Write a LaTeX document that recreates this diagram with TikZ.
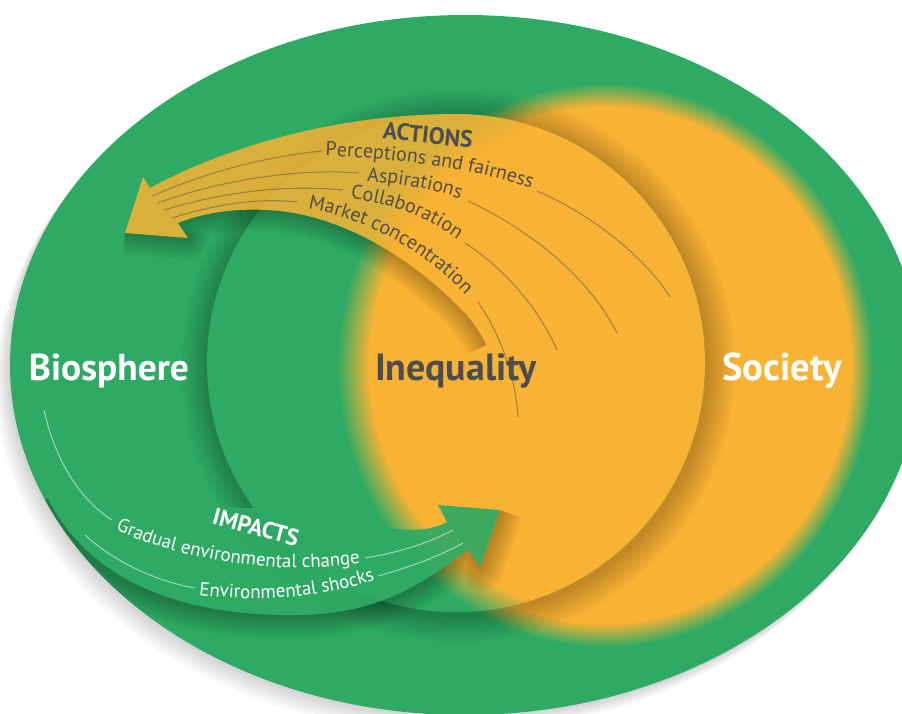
\documentclass[tikz,border=0pt]{standalone}
\usepackage{fontspec}
\setmainfont{PT Sans}
\usetikzlibrary{decorations.text}
\definecolor{grn}{RGB}{46,170,100}
\definecolor{orng}{RGB}{248,178,52}
\definecolor{dk}{RGB}{77,77,80}
\definecolor{itm}{RGB}{82,78,72}
\definecolor{lin}{RGB}{115,100,70}
\pgfdeclareradialshading{soc}{\pgfpointorigin}{color(0bp)=(orng); color(22.9bp)=(orng); color(25bp)=(grn); color(50bp)=(grn)}
\pgfdeclareradialshading{socin}{\pgfpointorigin}{color(0bp)=(orng); color(22.0bp)=(orng); color(25bp)=(grn); color(50bp)=(grn)}
\tikzset{
  actline/.style={lin, opacity=0.6, line width=1.1pt},
  impline/.style={white, opacity=0.55, line width=1pt},
  shadowstroke/.style={black, opacity=0.022, line join=round},
  itemtext/.style={decorate, decoration={text along path, text align=center, text color=itm, text={|\itemfnt|#1}}},
  imptext/.style={decorate, decoration={text along path, text align=center, text color=white, text={|\impfnt|#1}}},
}
\def\actband{(150,188) .. controls (220,150) and (330,114) .. (456,114) .. controls (568.7,114) and (667.3,189.7) .. (696.5,298.6) -- (505,440) .. controls (500,370) and (490,335) .. (455,303) .. controls (410,258) and (345,218) .. (280,211) .. controls (240,207) and (205,212) .. (178,223) -- (188,238) -- (125,233) -- (143,177) -- cycle}
\def\actlower{(125,233) -- (188,238) -- (178,223) .. controls (205,212) and (240,207) .. (280,211) .. controls (345,218) and (410,258) .. (455,303) .. controls (469,315.8) and (479,329.1) .. (486.3,344.9)}
\def\actbelow{(125,233) -- (188,238) -- (178,223) .. controls (205,212) and (240,207) .. (280,211) .. controls (345,218) and (410,258) .. (455,303) .. controls (490,335) and (500,370) .. (505,440) -- (505,720) -- (60,720) -- (60,233) -- cycle}
\def\impband{(30,385) .. controls (45,470) and (110,506) .. (250,508) .. controls (340,510) and (405,545) .. (447,522) -- (438,505) -- (500,510) -- (480,567) -- (468,550) .. controls (420,585) and (380,613) .. (300,615) .. controls (190,617) and (80,585) .. (40,480) -- cycle}
\def\implower{(45,500) .. controls (90,590) and (190,617) .. (300,615) .. controls (380,613) and (420,585) .. (468,550) -- (480,567) -- (500,510)}
\def\impbelow{(40,480) .. controls (80,585) and (190,617) .. (300,615) .. controls (380,613) and (420,585) .. (468,550) -- (480,567) -- (500,510) -- (620,515) -- (620,760) -- (-50,760) -- (-50,480) -- cycle}
\newcommand{\itemfnt}{\fontsize{20}{21}\selectfont}
\newcommand{\impfnt}{\fontsize{19}{19}\selectfont}
\begin{document}
\begin{tikzpicture}[x=1pt,y=-1pt]
\useasboundingbox (0,0) rectangle (902,713);
\clip (0,0) rectangle (902,713);
\fill[white] (0,0) rectangle (902,713);
% outer ellipse with soft shadow
\foreach \k in {1,...,7}{\fill[black,opacity=0.022] ([shift={(-2*\k,2.5*\k)}]465,365) ellipse (455 and 350);}
\fill[grn] (465,365) ellipse (455 and 350);
% society
\shade[shading=soc] (605,365) ellipse (268 and 282);
% inner circle glow
\foreach \w in {56,52,...,4}{\draw[black,opacity=0.017,line width=\w pt] (458,366) circle (249);}
% inner disc
\begin{scope}
\clip (456,363) circle (249);
\fill[grn] (150,100) rectangle (720,620);
\shade[shading=socin] (605,365) ellipse (268 and 282);
\end{scope}
% actions band
\begin{scope}
\clip \actbelow;
\foreach \w in {44,40,...,4}{\draw[shadowstroke,line width=\w pt] \actlower;}
\end{scope}
\fill[orng,opacity=0.85] \actband;
% action lines
\draw[actline] (152,196) .. controls (200,175) and (260,157) .. (322,151);
\draw[actline] (537,191) .. controls (582,210) and (640,250) .. (670,297);
\draw[actline] (158,203) .. controls (220,180) and (300,168) .. (358,173);
\draw[actline] (468,201) .. controls (520,225) and (585,270) .. (617,333);
\draw[actline] (164,210) .. controls (230,190) and (290,185) .. (343,190);
\draw[actline] (465,243) .. controls (495,262) and (535,300) .. (557,350);
\draw[actline] (172,218) .. controls (220,203) and (260,198) .. (297,202);
\draw[actline] (478,302) .. controls (497,330) and (515,370) .. (518,417);
% action texts
\path[itemtext={Perceptions and fairness}] (300,155) -- (330,156) .. controls (390,158) and (470,168) .. (527,187) -- (555.5,196.5);
\path[itemtext={Aspirations}] (336,178.9) -- (366,181) .. controls (395,183) and (430,188) .. (461,199) -- (489.3,209);
\path[itemtext={Collaboration}] (320.1,196.4) -- (350,199) .. controls (385,202) and (425,215) .. (458,240) -- (481.9,258.1);
\path[itemtext={Market concentration}] (273.3,203.6) -- (303,208) .. controls (370,218) and (430,255) .. (469,299) -- (488.9,321.4);
\node[font=\bfseries\fontsize{20}{20}\selectfont, text=dk, rotate=-6] (act) at (428,135) {\resizebox{90pt}{!}{ACTIONS}};
% impacts band
\begin{scope}
\clip (465,365) ellipse (455 and 350);
\clip \impbelow;
\foreach \w in {48,44,...,4}{\draw[shadowstroke,line width=\w pt] \implower;}
\end{scope}
\fill[grn,opacity=0.92] \impband;
\draw[impline] (44,410) .. controls (55,460) and (80,500) .. (112,520);
\draw[impline] (365,558) .. controls (395,553) and (425,545) .. (453,530);
\draw[impline] (85,535) .. controls (110,558) and (150,580) .. (195,588);
\draw[impline] (378,576) .. controls (410,567) and (440,556) .. (463,543);
\path[imptext={Gradual environmental change}] (88.8,517.4) -- (116,530) .. controls (170,555) and (270,578) .. (360,563) -- (389.6,558.1);
\path[imptext={Environmental shocks}] (169.2,591.6) -- (199,595) .. controls (260,602) and (320,598) .. (375,580) -- (403.5,570.7);
\node[font=\bfseries\fontsize{20}{20}\selectfont, text=white, rotate=-15] (imp) at (256,527) {\resizebox{88pt}{!}{IMPACTS}};
% main labels
\node[font=\bfseries\fontsize{36}{36}\selectfont, text=white, anchor=base] (bio) at (109,380) {\resizebox{160pt}{!}{Biosphere}};
\node[font=\bfseries\fontsize{36}{36}\selectfont, text=dk, anchor=base] (ineq) at (456,380) {\resizebox{162pt}{!}{Inequality}};
\node[font=\bfseries\fontsize{36}{36}\selectfont, text=white, anchor=base] (soc) at (782,380) {\resizebox{119pt}{!}{Society}};
\end{tikzpicture}
\end{document}
